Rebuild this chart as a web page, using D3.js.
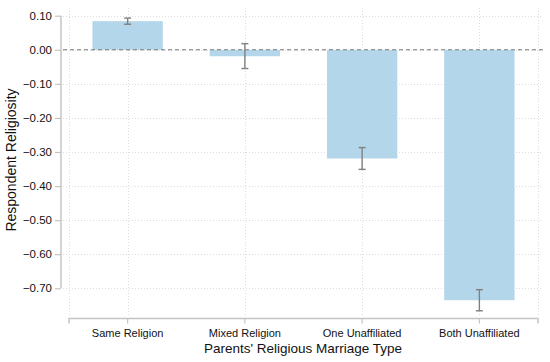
<!DOCTYPE html>
<html>
<head>
<meta charset="utf-8">
<script src="https://cdn.jsdelivr.net/npm/d3@7"></script>
<style>
  body { margin: 0; background: #fff; }
  text { font-family: "Liberation Sans", Arial, Helvetica, sans-serif; fill: #111; }
</style>
</head>
<body>
<div id="graph"></div>
<script>
const categories = ["Same Religion", "Mixed Religion", "One Unaffiliated", "Both Unaffiliated"];
const means = [0.084, -0.019, -0.319, -0.735];
const ciLow = [0.075, -0.055, -0.351, -0.766];
const ciHigh = [0.093, 0.018, -0.287, -0.704];
const yTicks = [0.10, 0.00, -0.10, -0.20, -0.30, -0.40, -0.50, -0.60, -0.70];

const width = 550;
const height = 362;

const data = categories.map((c, i) => ({ cat: c, mean: means[i], lo: ciLow[i], hi: ciHigh[i] }));

const xScale = d3.scaleBand()
                 .domain(categories)
                 .range([69, 538])
                 .padding(0);

const yScale = d3.scaleLinear()
                 .domain([0.10, -0.70])
                 .range([15.7, 288.3]);

const svg = d3.create("svg")
              .attr("width", width)
              .attr("height", height);

//grid
const gridColor = "#dcdcdc";
svg.append("g")
   .selectAll("line")
   .data(yTicks)
   .join("line")
   .attr("x1", 63)
   .attr("x2", 543)
   .attr("y1", d => Math.round(yScale(d)) + 0.5)
   .attr("y2", d => Math.round(yScale(d)) + 0.5)
   .attr("stroke", gridColor)
   .attr("stroke-dasharray", "1,2");

const vGrid = [69, ...categories.map(c => xScale(c) + xScale.bandwidth() / 2), 538];
svg.append("g")
   .selectAll("line")
   .data(vGrid)
   .join("line")
   .attr("x1", d => Math.round(d) + 0.5)
   .attr("x2", d => Math.round(d) + 0.5)
   .attr("y1", 8)
   .attr("y2", 315)
   .attr("stroke", gridColor)
   .attr("stroke-dasharray", "1,2");

//bars
const barW = xScale.bandwidth() * 0.6;
svg.append("g")
   .selectAll("rect")
   .data(data)
   .join("rect")
   .attr("x", d => xScale(d.cat) + (xScale.bandwidth() - barW) / 2)
   .attr("y", d => yScale(Math.max(0, d.mean)))
   .attr("width", barW)
   .attr("height", d => Math.abs(yScale(d.mean) - yScale(0)))
   .attr("fill", "#b4d6ea");

//zero line
svg.append("line")
   .attr("x1", 63)
   .attr("x2", 546)
   .attr("y1", yScale(0))
   .attr("y2", yScale(0))
   .attr("stroke", "#777")
   .attr("stroke-width", 1)
   .attr("stroke-dasharray", "4,3");

//error bars
const errColor = "#808080";
const eb = svg.append("g")
              .attr("stroke", errColor)
              .attr("stroke-width", 1.4);
data.forEach(d => {
  const cx = xScale(d.cat) + xScale.bandwidth() / 2;
  eb.append("line").attr("x1", cx).attr("x2", cx).attr("y1", yScale(d.hi)).attr("y2", yScale(d.lo));
  eb.append("line").attr("x1", cx - 3.5).attr("x2", cx + 3.5).attr("y1", yScale(d.hi)).attr("y2", yScale(d.hi));
  eb.append("line").attr("x1", cx - 3.5).attr("x2", cx + 3.5).attr("y1", yScale(d.lo)).attr("y2", yScale(d.lo));
});

//y-axis
const yAxis = d3.axisLeft(yScale)
                .tickValues(yTicks)
                .tickFormat(d3.format(".2f"))
                .tickSize(6)
                .tickPadding(3);

const yG = svg.append("g")
              .attr("transform", "translate(61, 0)")
              .call(yAxis);
yG.select(".domain").attr("stroke", "#c4c4c4").attr("stroke-width", 1.5).attr("d", `M0,${yScale(0.10)}V${yScale(-0.70)}`);
yG.selectAll(".tick line").attr("stroke", "#c4c4c4").attr("stroke-width", 1.2);
yG.selectAll(".tick text").style("font-size", "11.5px").attr("fill", "#111");

//x-axis
const xAxis = d3.axisBottom(xScale)
                .tickSize(5)
                .tickPadding(6);

const xG = svg.append("g")
              .attr("transform", "translate(0, 318.5)")
              .call(xAxis);
xG.select(".domain").attr("stroke", "#c4c4c4").attr("stroke-width", 1.5).attr("d", "M69,5V0H538V5");
xG.selectAll(".tick line").attr("stroke", "#c4c4c4").attr("stroke-width", 1.2);
xG.selectAll(".tick text").style("font-size", "11px").attr("fill", "#111");

//titles
svg.append("text")
   .attr("x", 303)
   .attr("y", 353)
   .attr("text-anchor", "middle")
   .style("font-size", "13.5px")
   .text("Parents' Religious Marriage Type");

svg.append("text")
   .attr("transform", "rotate(-90)")
   .attr("x", -160)
   .attr("y", 16)
   .attr("text-anchor", "middle")
   .style("font-size", "14px")
   .text("Respondent Religiosity");

d3.select("#graph").append(() => svg.node());
</script>
</body>
</html>
